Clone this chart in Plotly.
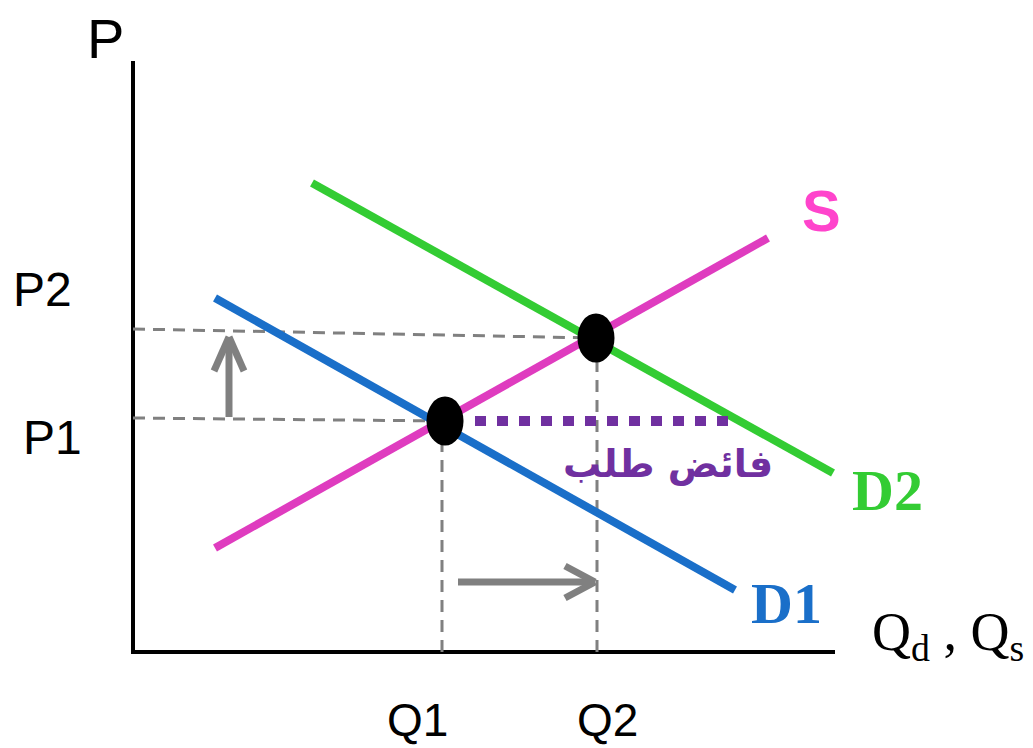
import plotly.graph_objects as go

# ---- data (quantity / price units, origin at the axes corner) ----
s_q = [82, 635]
s_p = [104, 414]
d1_q = [82, 602]
d1_p = [354, 62]
d2_q = [179, 700]
d2_p = [469, 179]

eq_q = [312, 463]        # E1, E2 quantities
eq_p = [231, 314]        # E1, E2 prices
q_ticks = [309, 464]     # Q1, Q2 positions on the quantity axis
p_ticks = [234, 323]     # P1, P2 positions on the price axis
q_labels = ["Q1", "Q2"]
p_labels = ["P1", "P2"]

excess_q = [342, 602]    # excess-demand segment at P1
excess_p = 231
up_arrow_q = 96
up_arrow_p = [235, 315]
right_arrow_q = [325, 462]
right_arrow_p = 70

axis_len_q = 702
axis_len_p = 591

GRAY = "#808080"
PINK = "#DF3CBF"
BLUE = "#1A6FC9"
GREEN = "#33CC33"
PURPLE = "#7030A0"

fig = go.Figure()

def seg(x, y, color, width, dash=None):
    fig.add_trace(go.Scatter(x=x, y=y, mode="lines", hoverinfo="skip",
                             line=dict(color=color, width=width, dash=dash)))

# axes
seg([0, 0, axis_len_q], [axis_len_p, 0, 0], "black", 4)

# dashed guide lines
seg([0, eq_q[0]], [p_ticks[0], eq_p[0]], GRAY, 3, "12px,8px")
seg([0, eq_q[1]], [p_ticks[1], eq_p[1]], GRAY, 3, "12px,8px")
seg([q_ticks[0], q_ticks[0]], [0, eq_p[0]], GRAY, 3, "12px,8px")
seg([q_ticks[1], q_ticks[1]], [0, eq_p[1]], GRAY, 3, "12px,8px")

# curves
seg(d2_q, d2_p, GREEN, 8)
seg(s_q, s_p, PINK, 8)
seg(d1_q, d1_p, BLUE, 8)

# excess demand (dotted)
seg(excess_q, [excess_p, excess_p], PURPLE, 10, "11px,11px")

# arrows (shaft + chevron)
ah_len, ah_half = 34, 15
seg([up_arrow_q, up_arrow_q], up_arrow_p, GRAY, 7)
tip = up_arrow_p[1]
seg([up_arrow_q - ah_half, up_arrow_q, None, up_arrow_q, up_arrow_q + ah_half],
    [tip - ah_len, tip, None, tip, tip - ah_len], GRAY, 7)
seg(right_arrow_q, [right_arrow_p, right_arrow_p], GRAY, 7)
tipq = right_arrow_q[1]
seg([tipq - 30, tipq, None, tipq, tipq - 30],
    [right_arrow_p + ah_half + 1, right_arrow_p, None, right_arrow_p, right_arrow_p - ah_half - 1], GRAY, 7)

# equilibrium points (ellipses)
rx, ry = 18.5, 24.5
shapes = []
for q, p in zip(eq_q, eq_p):
    shapes.append(dict(type="circle", xref="x", yref="y",
                       x0=q - rx, x1=q + rx, y0=p - ry, y1=p + ry,
                       fillcolor="black", line=dict(width=0)))

SANS = "Liberation Sans, Arial, sans-serif"
SERIF = "Liberation Serif, Times New Roman, serif"
ann = []
def label(x, y, text, size, color="black", family=SANS, xanchor="center"):
    ann.append(dict(x=x, y=y, xref="x", yref="y", text=text, showarrow=False,
                    xanchor=xanchor, yanchor="middle",
                    font=dict(size=size, color=color, family=family)))

label(-28, 614, "P", 56)
label(-91, 363, p_labels[1], 48)
label(-81, 215, p_labels[0], 48)
label(q_ticks[0] - 25, -68, q_labels[0], 46)
label(q_ticks[1] + 10, -68, q_labels[1], 46)
label(688, 442, "<b>S</b>", 58, "#FF44CC")
label(754, 162, "<b>D2</b>", 58, GREEN, SERIF)
label(653, 49, "<b>D1</b>", 58, BLUE, SERIF)
label(815, 17, "Q<sub>d</sub> , Q<sub>s</sub>", 54, "black", SERIF)
label(535, 188, "<b>فائض طلب</b>", 38, PURPLE, "DejaVu Sans, sans-serif")

# page body has an 8px margin: figure is 1025x740 so it fits the 1033x748 window
fig.update_layout(
    width=1025, height=740,
    margin=dict(l=0, r=0, t=0, b=0),
    paper_bgcolor="white", plot_bgcolor="white",
    showlegend=False,
    xaxis=dict(range=[-125, 900], visible=False, fixedrange=True),
    yaxis=dict(range=[-96, 644], visible=False, fixedrange=True),
    shapes=shapes, annotations=ann,
)

fig.write_html("out.html")
